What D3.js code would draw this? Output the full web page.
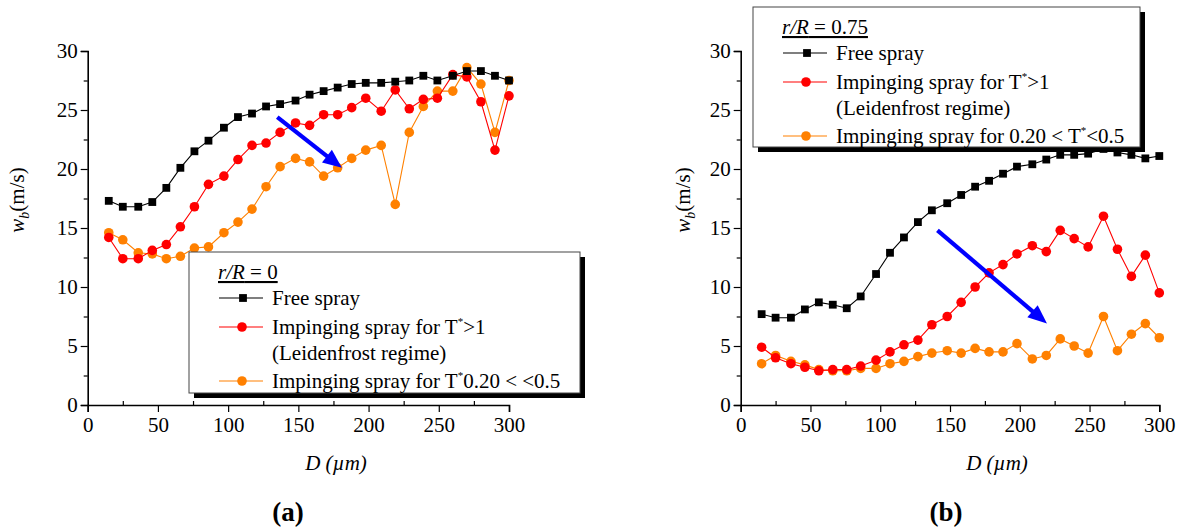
<!DOCTYPE html>
<html>
<head>
<meta charset="utf-8">
<script src="https://cdn.jsdelivr.net/npm/d3@7"></script>
<style>
  body { margin: 0; background: #fff; }
  svg, svg text { font-family: "Liberation Serif", Tinos, "Times New Roman", Times, "DejaVu Serif", serif; }
  svg { display: block; }
</style>
</head>
<body>
<svg id="fig" width="1181" height="527"></svg>
<script>
// Droplet diameter classes (µm)
const diameters = [15, 25, 36, 46, 56, 66, 76, 86, 97, 107, 117, 127, 137, 148, 158,
                   168, 178, 188, 198, 209, 219, 229, 239, 249, 260, 270, 280, 290, 300];

// (a) r/R = 0 — mean axial velocity w_b (m/s)
const freeA = [17.3, 16.8, 16.8, 17.2, 18.4, 20.1, 21.5, 22.4, 23.5, 24.4, 24.7, 25.3, 25.5, 25.8, 26.3,
               26.6, 26.9, 27.2, 27.3, 27.3, 27.4, 27.5, 27.9, 27.5, 27.9, 28.3, 28.3, 27.9, 27.5];
const leidA = [14.2, 12.4, 12.4, 13.1, 13.6, 15.1, 16.8, 18.7, 19.4, 20.8, 22.0, 22.2, 23.1, 23.9, 23.7,
               24.6, 24.6, 25.2, 26.0, 24.9, 26.7, 25.1, 25.9, 26.0, 28.0, 27.8, 25.7, 21.6, 26.2];
const coolA = [14.6, 14.0, 12.9, 12.8, 12.4, 12.6, 13.3, 13.4, 14.6, 15.5, 16.6, 18.5, 20.2, 20.9, 20.6,
               19.4, 20.1, 20.9, 21.6, 22.0, 17.0, 23.1, 25.3, 26.6, 26.6, 28.6, 27.2, 23.1, 27.5];

// (b) r/R = 0.75
const freeB = [7.7, 7.4, 7.4, 8.1, 8.7, 8.5, 8.2, 9.2, 11.1, 12.9, 14.2, 15.5, 16.5, 17.1, 17.8,
               18.5, 19.0, 19.6, 20.2, 20.4, 20.8, 21.2, 21.2, 21.3, 21.7, 21.4, 21.2, 20.9, 21.1];
const leidB = [4.9, 4.0, 3.5, 3.2, 2.9, 3.0, 3.0, 3.3, 3.8, 4.5, 5.1, 5.5, 6.8, 7.5, 8.7,
               10.0, 11.2, 11.9, 12.8, 13.5, 13.0, 14.8, 14.1, 13.4, 16.0, 13.2, 10.9, 12.7, 9.5];
const coolB = [3.5, 4.2, 3.7, 3.4, 3.0, 2.9, 2.9, 3.1, 3.1, 3.5, 3.7, 4.1, 4.4, 4.6, 4.4,
               4.8, 4.5, 4.5, 5.2, 3.9, 4.2, 5.6, 5.0, 4.4, 7.5, 4.6, 6.0, 6.9, 5.7];

// Axis ticks
const xTicks = [0, 50, 100, 150, 200, 250, 300];
const xMinor = [25, 75, 125, 175, 225, 275];
const yTicks = [0, 5, 10, 15, 20, 25, 30];
const yMinor = [2.5, 7.5, 12.5, 17.5, 22.5, 27.5];

// Trend arrows [start, end] in data units (D, w_b)
const arrowA = [[135, 24.4], [181, 20.1]];
const arrowB = [[141, 14.8], [219.5, 6.9]];

const COLORS = { free: "#000000", leid: "#ff0000", cool: "#ff8000" };
const SERIF = '"Liberation Serif", Tinos, "Times New Roman", Times, "DejaVu Serif", serif';

const svg = d3.select("#fig");

function drawPanel(p) {
  const g = svg.append("g").attr("font-family", SERIF);
  const x = d3.scaleLinear().domain([0, 300]).range(p.xr);
  const y = d3.scaleLinear().domain([0, 30]).range([405, 51]);

  // axes
  const xAxis = g.append("g").attr("transform", `translate(0,${y(0)})`)
    .call(d3.axisBottom(x).tickValues(xTicks).tickSize(7).tickPadding(3).tickFormat(d3.format("d")));
  g.append("g").attr("transform", `translate(0,${y(0)})`)
    .call(d3.axisBottom(x).tickValues(xMinor).tickSize(-4).tickFormat(""))
    .call(a => a.select(".domain").remove());
  g.append("g").attr("transform", `translate(${x(0)},0)`)
    .call(d3.axisLeft(y).tickValues(yTicks).tickSize(7).tickPadding(3).tickFormat(d3.format("d")));
  g.append("g").attr("transform", `translate(${x(0)},0)`)
    .call(d3.axisLeft(y).tickValues(yMinor).tickSize(4).tickFormat(""))
    .call(a => a.select(".domain").remove());
  g.selectAll("g").attr("font-family", SERIF);
  g.selectAll(".domain").attr("stroke", "#000").attr("stroke-width", 1.6);
  g.selectAll(".tick line").attr("stroke", "#000").attr("stroke-width", 1.2);
  g.selectAll(".tick text").attr("font-size", 21).attr("fill", "#000");
  xAxis.selectAll(".tick text").attr("dy", "0.82em");

  // axis titles
  const yl = g.append("text")
    .attr("transform", `translate(${p.ylx},${p.yly}) rotate(-90)`)
    .attr("text-anchor", "middle").attr("font-size", 21);
  yl.append("tspan").attr("font-style", "italic").text("w");
  yl.append("tspan").attr("font-style", "italic").attr("font-size", 14).attr("dy", 5).text("b");
  yl.append("tspan").attr("dy", -5).text("(m/s)");

  const xl = g.append("text").attr("x", p.xlx).attr("y", 470)
    .attr("text-anchor", "middle").attr("font-size", 21).attr("font-style", "italic");
  xl.append("tspan").text("D (");
  xl.append("tspan").text("µm");
  xl.append("tspan").text(")");

  g.append("text").attr("x", p.capx).attr("y", 521).attr("text-anchor", "middle")
    .attr("font-size", 27).attr("font-weight", "bold").text(p.caption);

  // series
  const line = d3.line().x((d, i) => x(diameters[i])).y(d => y(d));
  const series = [
    { vals: p.cool, c: COLORS.cool, shape: "circle" },
    { vals: p.leid, c: COLORS.leid, shape: "circle" },
    { vals: p.free, c: COLORS.free, shape: "square" }
  ];
  series.forEach(s => {
    g.append("path").datum(s.vals).attr("d", line)
      .attr("fill", "none").attr("stroke", s.c).attr("stroke-width", 1.1);
    if (s.shape === "circle") {
      g.selectAll(null).data(s.vals).enter().append("circle")
        .attr("cx", (d, i) => x(diameters[i])).attr("cy", d => y(d))
        .attr("r", 4.8).attr("fill", s.c);
    } else {
      g.selectAll(null).data(s.vals).enter().append("rect")
        .attr("x", (d, i) => x(diameters[i]) - 3.9).attr("y", d => y(d) - 3.9)
        .attr("width", 7.8).attr("height", 7.8).attr("fill", s.c);
    }
  });

  // trend arrow
  const [a0, a1] = p.arrow;
  const x0 = x(a0[0]), y0 = y(a0[1]), x1 = x(a1[0]), y1 = y(a1[1]);
  const ang = Math.atan2(y1 - y0, x1 - x0);
  const hl = 19, hw = 8;
  const bx = x1 - hl * Math.cos(ang), by = y1 - hl * Math.sin(ang);
  g.append("line").attr("x1", x0).attr("y1", y0).attr("x2", bx + 2 * Math.cos(ang)).attr("y2", by + 2 * Math.sin(ang))
    .attr("stroke", "#0000ff").attr("stroke-width", 4.2);
  g.append("path")
    .attr("d", `M${x1},${y1}L${bx - hw * Math.sin(ang)},${by + hw * Math.cos(ang)}L${bx + hw * Math.sin(ang)},${by - hw * Math.cos(ang)}Z`)
    .attr("fill", "#0000ff");

  // legend
  const L = p.legend;
  const lg = g.append("g").attr("transform", `translate(${L.x},${L.y})`);
  lg.append("rect").attr("x", 5).attr("y", 5).attr("width", L.w).attr("height", L.h).attr("fill", "#000");
  lg.append("rect").attr("x", 0).attr("y", 0).attr("width", L.w).attr("height", L.h)
    .attr("fill", "#fff").attr("stroke", "#444").attr("stroke-width", 1);
  lg.append("text").attr("x", 29).attr("y", 27).attr("font-size", 21)
    .attr("text-decoration", "underline")
    .call(t => { t.append("tspan").attr("font-style", "italic").text("r/R"); t.append("tspan").text(" = " + p.rR); });

  const rows = [
    { cy: 46, c: COLORS.free, shape: "square", parts: [["Free spray"]] },
    { cy: 75, c: COLORS.leid, shape: "circle", parts: [["Impinging spray for T"], ["*", "sup"], [">1"]] },
    { cy: 101, parts: [["(Leidenfrost regime)"]] },
    { cy: 129, c: COLORS.cool, shape: "circle", parts: p.coolLabel }
  ];
  rows.forEach(r => {
    if (r.c) {
      lg.append("line").attr("x1", 30).attr("x2", 74).attr("y1", r.cy).attr("y2", r.cy)
        .attr("stroke", r.c).attr("stroke-width", 1.1);
      if (r.shape === "square") {
        lg.append("rect").attr("x", 54 - 3.9).attr("y", r.cy - 3.9).attr("width", 7.8).attr("height", 7.8).attr("fill", r.c);
      } else {
        lg.append("circle").attr("cx", 53).attr("cy", r.cy).attr("r", 4.8).attr("fill", r.c);
      }
    }
    const t = lg.append("text").attr("x", 83).attr("y", r.cy + 7).attr("font-size", 21);
    let raised = false;
    r.parts.forEach(([s, kind]) => {
      const ts = t.append("tspan").text(s);
      if (kind === "sup") { ts.attr("font-size", 11).attr("dy", -9); raised = true; }
      else if (raised) { ts.attr("dy", 9); raised = false; }
    });
  });
}

drawPanel({
  xr: [87.7, 509], free: freeA, leid: leidA, cool: coolA, arrow: arrowA,
  ylx: 24, yly: 200, xlx: 336, capx: 288, caption: "(a)", rR: "0",
  legend: { x: 189, y: 252, w: 391, h: 141 },
  coolLabel: [["Impinging spray for T"], ["*", "sup"], ["0.20 < <0.5"]]
});
drawPanel({
  xr: [740.7, 1159.3], free: freeB, leid: leidB, cool: coolB, arrow: arrowB,
  ylx: 690, yly: 200, xlx: 997, capx: 946, caption: "(b)", rR: "0.75",
  legend: { x: 753, y: 7, w: 387, h: 140 },
  coolLabel: [["Impinging spray for 0.20 < T"], ["*", "sup"], ["<0.5"]]
});
</script>
</body>
</html>
